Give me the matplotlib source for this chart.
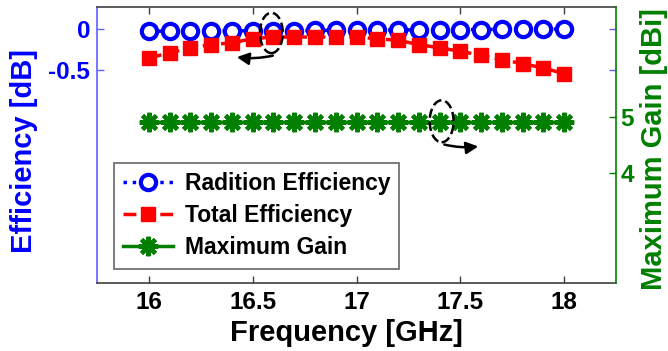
import numpy as np
import matplotlib
matplotlib.use("Agg")
import matplotlib.pyplot as plt
from matplotlib.patches import Ellipse

plt.rcParams['font.family'] = ['Liberation Sans', 'DejaVu Sans']
plt.rcParams['font.weight'] = 'bold'

# Frequency sweep, 16-18 GHz in 0.1 GHz steps
freq = [16.0, 16.1, 16.2, 16.3, 16.4, 16.5, 16.6, 16.7, 16.8, 16.9, 17.0,
        17.1, 17.2, 17.3, 17.4, 17.5, 17.6, 17.7, 17.8, 17.9, 18.0]
rad_eff = [-0.03, -0.03, -0.028, -0.027, -0.026, -0.025, -0.024, -0.022, -0.02, -0.02, -0.018,
           -0.016, -0.015, -0.014, -0.012, -0.01, -0.01, -0.008, -0.007, -0.006, -0.005]
tot_eff = [-0.35, -0.29, -0.23, -0.19, -0.17, -0.12, -0.10, -0.10, -0.10, -0.10, -0.10,
           -0.12, -0.14, -0.19, -0.23, -0.27, -0.32, -0.37, -0.42, -0.47, -0.54]
max_gain = [4.91, 4.91, 4.91, 4.91, 4.91, 4.91, 4.91, 4.91, 4.91, 4.91, 4.91,
            4.91, 4.91, 4.91, 4.91, 4.91, 4.91, 4.91, 4.91, 4.91, 4.91]

blue = '#0000ff'
red = '#ff0000'
green = '#007f00'
spine_gray = '#404040'

fig = plt.figure(figsize=(6.68, 3.51), dpi=100)
ax1 = fig.add_axes([0.1452, 0.1937, 0.7770, 0.7863])
ax2 = ax1.twinx()

l1, = ax1.plot(freq, rad_eff, linestyle=':', color=blue, linewidth=2.5,
               marker='o', markersize=11, markerfacecolor='white',
               markeredgecolor=blue, markeredgewidth=3, label='Radition Efficiency')
l2, = ax1.plot(freq, tot_eff, linestyle='--', color=red, linewidth=2.5,
               marker='s', markersize=10, markerfacecolor=red,
               markeredgecolor=red, label='Total Efficiency')
# 8-armed asterisk marker
l3, = ax2.plot(freq, max_gain, linestyle='-', color=green, linewidth=2.5,
               marker=(8, 2, 0), markersize=14, markeredgewidth=3,
               markeredgecolor=green, label='Maximum Gain')

ax1.set_xlim(15.75, 18.25)
ax1.set_ylim(-3.05, 0.26)
ax2.set_ylim(2.0, 7.0)

ax1.set_xticks([16, 16.5, 17, 17.5, 18])
ax1.set_xticklabels(['16', '16.5', '17', '17.5', '18'])
ax1.set_yticks([-0.5, 0])
ax1.set_yticklabels(['-0.5', '0'])
ax2.set_yticks([4, 5])

ax1.tick_params(axis='x', direction='in', top=True, length=5, width=1,
                labelsize=17.5, colors=spine_gray, labelcolor='black', pad=6)
ax1.tick_params(axis='y', direction='in', right=True, length=5, width=1,
                labelsize=17.5, colors='#6060ff', labelcolor=blue, pad=5)
ax2.tick_params(axis='y', direction='in', length=5, width=1,
                labelsize=17.5, colors=green, labelcolor=green, pad=3)
for lab in ax1.get_xticklabels() + ax1.get_yticklabels() + ax2.get_yticklabels():
    lab.set_fontweight('bold')

ax1.spines['left'].set_color('#6060ff')
ax1.spines['top'].set_color(spine_gray)
ax1.spines['bottom'].set_color(spine_gray)
ax1.spines['right'].set_visible(False)
ax2.spines['left'].set_visible(False)
ax2.spines['top'].set_visible(False)
ax2.spines['bottom'].set_visible(False)
ax2.spines['right'].set_color(green)
for sp in ax1.spines.values():
    sp.set_linewidth(1.2)
ax2.spines['right'].set_linewidth(1.2)

ax1.set_xlabel('Frequency [GHz]', fontsize=21, fontweight='bold')
ax1.xaxis.set_label_coords(0.48, -0.13)
ax1.set_ylabel('Efficiency [dB]', fontsize=21, fontweight='bold', color=blue)
ax1.yaxis.set_label_coords(-0.114, 0.48)
ax2.set_ylabel('Maximum Gain [dBi]', fontsize=21, fontweight='bold', color=green)
ax2.yaxis.set_label_coords(1.046, 0.485)

# dashed ellipses with arrows pointing to each curve's axis
ax2.add_patch(Ellipse((16.59, 6.53), 0.11, 0.73, fill=False,
                      linestyle='--', linewidth=1.8, edgecolor='black', zorder=5))
ax2.annotate('', xy=(16.41, 6.1), xytext=(16.61, 6.13),
             arrowprops=dict(arrowstyle='-|>', color='black', lw=1.8,
                             mutation_scale=18, connectionstyle='arc3,rad=-0.1'),
             zorder=5)
ax2.add_patch(Ellipse((17.41, 4.93), 0.115, 0.76, fill=False,
                      linestyle='--', linewidth=1.8, edgecolor='black', zorder=5))
ax2.annotate('', xy=(17.6, 4.48), xytext=(17.41, 4.52),
             arrowprops=dict(arrowstyle='-|>', color='black', lw=1.8,
                             mutation_scale=18, connectionstyle='arc3,rad=0.1'),
             zorder=5)

leg = ax2.legend(handles=[l1, l2, l3], loc='upper left',
                 bbox_to_anchor=(0.032, 0.435), prop={'size': 16.5, 'weight': 'bold'},
                 frameon=True, fancybox=False, edgecolor='#404040',
                 handlelength=2.2, handletextpad=0.5, labelspacing=0.4,
                 borderpad=0.4, borderaxespad=0)
leg.get_frame().set_linewidth(1.2)

fig.savefig('out.png', dpi=100)
